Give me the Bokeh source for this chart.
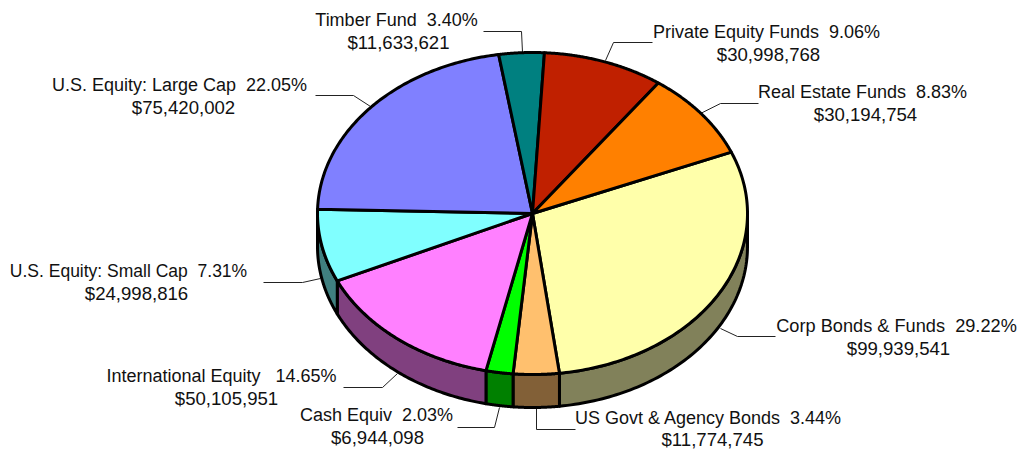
import numpy as np
from bokeh.plotting import figure
from bokeh.models import Range1d
from bokeh.core.properties import value
from bokeh.embed import file_html
from bokeh.resources import INLINE

categories = ["Corp Bonds & Funds", "US Govt & Agency Bonds", "Cash Equiv", "International Equity",
              "U.S. Equity: Small Cap", "U.S. Equity: Large Cap", "Timber Fund",
              "Private Equity Funds", "Real Estate Funds"]
amounts = [99939541, 11774745, 6944098, 50105951, 24998816, 75420002, 11633621, 30998768, 30194754]
percent_labels = ["29.22%", "3.44%", "2.03%", "14.65%", "7.31%", "22.05%", "3.40%", "9.06%", "8.83%"]
label_gaps = [2, 2, 2, 3, 2, 2, 2, 2, 2]
top_colors = ["#FFFFAA", "#FFC06E", "#00FF00", "#FF80FF", "#80FFFF", "#8080FF", "#008080", "#C02000", "#FF8000"]
side_colors = ["#81815A", "#826037", "#008000", "#80407F", "#408080", "#404080", "#004040", "#601000", "#804000"]

# layout (screen pixels of the reference)
CX, CY, RX, RY, DEPTH = 532, 213, 215, 161, 33
START_DEG = 67.6
label_centers = [(896, 325), (708, 417), (376, 414), (221, 375), (128, 270), (179, 84), (396, 19), (766, 31), (862, 91)]
amount_centers = [(898, 348), (712, 439), (377, 437), (226, 398), (136, 293), (183, 107), (398, 42), (768, 54), (865, 114)]
label_sizes = ["18.2px", "18px", "18px", "18px", "17.5px", "18px", "18px", "18px", "18px"]
leaders = [
    [(775, 336), (737, 336), (720, 328)],
    [(575, 429), (536, 429), (536, 408)],
    [(457, 427), (494, 427), (499, 407)],
    [(343, 387), (382, 387), (397, 373)],
    [(263, 282), (302, 282), (320, 278)],
    [(315, 95), (353, 95), (370, 106)],
    [(483, 31), (521, 31), (522, 52)],
    [(652, 42), (613, 42), (605, 60)],
    [(758, 103), (720, 103), (700, 113)],
]

p = figure(width=1022, height=449, output_backend="svg", toolbar_location=None,
           x_range=Range1d(0, 1022), y_range=Range1d(449, 0), min_border=0)
p.axis.visible = False
p.grid.visible = False
p.outline_line_color = None
p.background_fill_color = "white"


def ell(deg, dy=0.0):
    a = np.radians(deg)
    return CX + RX * np.sin(a), CY - RY * np.cos(a) + dy


fractions = np.array(amounts, dtype=float) / sum(amounts)
edges = START_DEG + 360 * np.concatenate([[0], np.cumsum(fractions)])

# leader lines
p.multi_line([[q[0] for q in l] for l in leaders], [[q[1] for q in l] for l in leaders],
             line_color="#222222", line_width=1)

# side walls: only the front half of the disc is visible (90..270 degrees clockwise from top)
for i in range(len(amounts)):
    for shift in (0, 360, -360):
        a0 = max(edges[i] + shift, 90)
        a1 = min(edges[i + 1] + shift, 270)
        if a1 > a0:
            t = np.linspace(a0, a1, 80)
            xt, yt = ell(t)
            xb, yb = ell(t[::-1], DEPTH)
            p.patch(np.concatenate([xt, xb]), np.concatenate([yt, yb]),
                    fill_color=side_colors[i], line_color="black", line_width=3, line_join="round")

# top slices
for i in range(len(amounts)):
    t = np.linspace(edges[i], edges[i + 1], 120)
    xt, yt = ell(t)
    p.patch(np.concatenate([[CX], xt]), np.concatenate([[CY], yt]),
            fill_color=top_colors[i], line_color="black", line_width=3, line_join="round")

# labels ("\u00a0" keeps the wide gaps that the svg would otherwise collapse)
for i, cat in enumerate(categories):
    x, y = label_centers[i]
    p.text([x], [y], text=[cat + "\u00a0" * label_gaps[i] + percent_labels[i]], text_align="center",
           text_baseline="middle", text_font=value("Liberation Sans"), text_font_size=label_sizes[i],
           text_color="#111111")
    x, y = amount_centers[i]
    p.text([x], [y], text=[f"${amounts[i]:,}"], text_align="center", text_baseline="middle",
           text_font=value("Liberation Sans"), text_font_size="18.6px", text_color="#111111")

open("out.html", "w").write(file_html(p, INLINE))
